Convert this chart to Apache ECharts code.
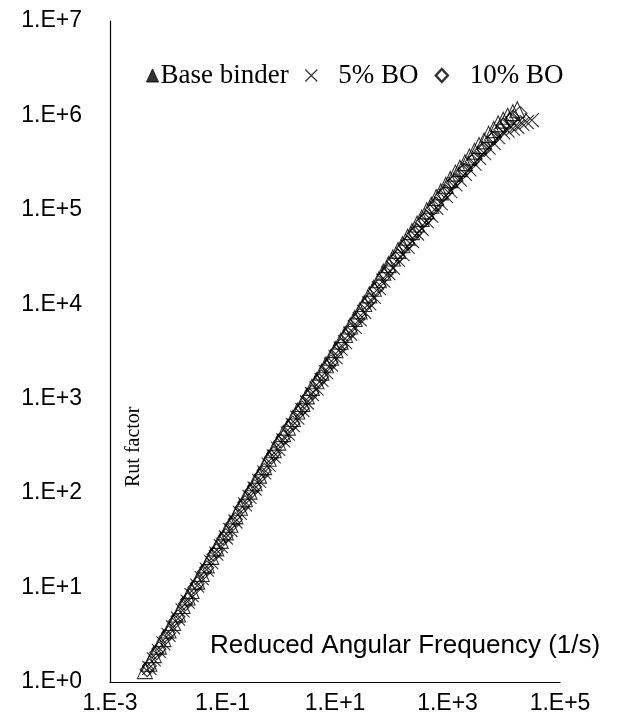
<!DOCTYPE html>
<html>
<head>
<meta charset="utf-8">
<script src="https://cdn.jsdelivr.net/npm/echarts@6/dist/echarts.min.js"></script>
<style>
    html, body { margin: 0; padding: 0; background: #fff; }
    #chart { width: 620px; height: 726px; }
</style>
</head>
<body>
<div id="chart"></div>
<script>
    // reduced angular frequency (1/s) and rut factor
    var baseFreq = [4.17e-3, 5.01e-3, 6.0e-3, 7.41e-3, 8.9e-3, 1.10e-2, 1.32e-2, 1.62e-2, 1.95e-2, 2.40e-2,
        2.82e-2, 3.55e-2, 4.27e-2, 5.25e-2, 6.3e-2, 7.76e-2, 9.3e-2, 0.115, 0.138, 0.170,
        0.204, 0.251, 0.302, 0.372, 0.447, 0.550, 0.661, 0.813, 0.977, 1.20,
        1.45, 1.78, 2.14, 2.63, 3.16, 3.89, 4.68, 5.75, 6.92, 8.51,
        10.2, 12.6, 15.1, 18.6, 22.4, 27.5, 33.1, 40.7, 49.0, 60.3,
        72.4, 89.1, 107, 132, 158, 195, 234, 288, 347, 427,
        513, 631, 759, 933, 1120, 1380, 1660, 2040, 2450, 3020,
        3630, 4470, 5370, 6610, 7940, 9770, 11700, 14500, 17400];
    var baseRut = [1.32, 1.58, 1.95, 2.40, 2.88, 3.55, 4.27, 5.25, 6.46, 7.94,
        9.3, 11.7, 14.1, 17.4, 21.4, 26.3, 31.6, 38.9, 46.8, 57.5,
        70.8, 87.1, 105, 129, 155, 191, 234, 288, 347, 427,
        501, 617, 741, 891, 1070, 1320, 1550, 1910, 2290, 2750,
        3310, 4070, 4790, 5890, 7080, 8510, 10200, 12600, 14800, 18200,
        21900, 26300, 30900, 37200, 42700, 51300, 58900, 70800, 81300, 97700,
        112000, 135000, 155000, 182000, 209000, 245000, 275000, 316000, 363000, 417000,
        479000, 537000, 631000, 708000, 813000, 891000, 980000, 1070000, 1150000];

    var bo5Freq = [5.0e-3, 6.0e-3, 7.4e-3, 8.9e-3, 1.10e-2, 1.32e-2, 1.62e-2, 1.95e-2, 2.40e-2, 2.82e-2,
        3.55e-2, 4.27e-2, 5.25e-2, 6.3e-2, 7.76e-2, 9.3e-2, 0.115, 0.138, 0.170, 0.204,
        0.251, 0.302, 0.372, 0.447, 0.550, 0.661, 0.813, 0.977, 1.20, 1.45,
        1.78, 2.14, 2.63, 3.16, 3.89, 4.68, 5.75, 6.92, 8.51, 10.2,
        12.6, 15.1, 18.6, 22.4, 27.5, 33.1, 40.7, 49.0, 60.3, 72.4,
        89.1, 107, 132, 158, 195, 234, 288, 347, 427, 513,
        631, 759, 933, 1120, 1380, 1660, 2040, 2450, 3020, 3630,
        4470, 5370, 6610, 7940, 9770, 11700, 14500, 17400, 21400, 25700, 31600];
    var bo5Rut = [1.41, 1.74, 2.14, 2.57, 3.16, 3.80, 4.68, 5.75, 7.08, 8.32,
        10.5, 12.6, 15.5, 18.6, 22.9, 27.5, 33.9, 40.7, 50.1, 61.7,
        75.9, 91.2, 112, 135, 166, 200, 245, 295, 363, 427,
        525, 631, 759, 912, 1120, 1290, 1580, 1910, 2290, 2750,
        3390, 3980, 4900, 5750, 6920, 8320, 10200, 12000, 14800, 17800,
        21400, 24500, 29500, 33900, 40700, 46800, 56200, 63100, 75900, 87100,
        105000, 117000, 141000, 158000, 186000, 209000, 240000, 269000, 309000, 355000,
        398000, 457000, 513000, 589000, 661000, 692000, 724000, 759000, 813000, 851000, 891000];

    var bo10Freq = [4.57e-3, 5.0e-3, 6.76e-3, 7.4e-3, 1.0e-2, 1.10e-2, 1.48e-2, 1.62e-2, 2.19e-2, 2.40e-2,
        3.24e-2, 3.55e-2, 4.79e-2, 5.25e-2, 7.08e-2, 7.76e-2, 0.105, 0.115, 0.155, 0.170,
        0.229, 0.251, 0.339, 0.372, 0.501, 0.550, 0.741, 0.813, 1.10, 1.20,
        1.62, 1.78, 2.40, 2.63, 3.55, 3.89, 5.25, 5.75, 7.76, 8.51,
        11.5, 12.6, 17.0, 18.6, 25.1, 27.5, 37.2, 40.7, 55.0, 60.3,
        81.3, 89.1, 120, 132, 178, 195, 263, 288, 389, 427,
        575, 631, 851, 933, 1260, 1380, 1860, 2040, 2750, 3020,
        4070, 4470, 6030, 6610, 8910, 9770, 13200, 14500, 19500];
    var bo10Rut = [1.35, 1.48, 2.04, 2.24, 3.02, 3.31, 4.47, 4.90, 6.76, 7.41,
        10.0, 11.0, 14.8, 16.2, 22.4, 24.5, 33.1, 35.5, 47.9, 52.5,
        72.4, 79.4, 107, 117, 158, 174, 240, 263, 355, 389,
        513, 550, 741, 794, 1070, 1170, 1550, 1700, 2240, 2450,
        3310, 3630, 4790, 5250, 6920, 7590, 10200, 11000, 14500, 15800,
        20900, 22900, 30200, 32400, 41700, 44700, 56200, 60300, 77600, 83200,
        105000, 115000, 145000, 155000, 195000, 204000, 251000, 263000, 324000, 347000,
        427000, 437000, 550000, 575000, 708000, 794000, 891000, 955000, 1050000];

    var seriesNames = ['Base binder', '5% BO', '10% BO'];

    var crossPath = 'path://M0,0L10,10M10,0L0,10';
    var sans = 'Liberation Sans, Arial, sans-serif';
    var serif = 'Liberation Serif, Times New Roman, serif';

    function sci(v) {
        var e = Math.round(Math.log10(v));
        return '1.E' + (e < 0 ? '-' : '+') + Math.abs(e);
    }

    function pairs(xs, ys) {
        return xs.map(function (x, i) { return [x, ys[i]]; });
    }

    var markerStyle = { color: 'rgba(0,0,0,0)', borderColor: '#000', borderWidth: 1.1 };
    var legendFont = { fontFamily: serif, fontSize: 27, color: '#000' };
    var legendKeys = { 'Base binder': 'a', '5% BO': 'b', '10% BO': 'c' };

    var option = {
        animation: false,
        backgroundColor: '#fff',
        grid: { left: 110, right: 60, top: 21, bottom: 44 },
        legend: {
            left: 141,
            top: 57,
            itemGap: 16,
            itemWidth: 12,
            itemHeight: 13,
            formatter: function (name) {
                return '{' + legendKeys[name] + '|' + name + '}';
            },
            textStyle: {
                fontFamily: serif, fontSize: 27, color: '#000',
                rich: {
                    a: Object.assign({ padding: [0, 5, 0, -3] }, legendFont),
                    b: Object.assign({ padding: [0, 0, 0, 16] }, legendFont),
                    c: Object.assign({ padding: [0, 0, 0, 17] }, legendFont)
                }
            },
            data: [
                { name: seriesNames[0], icon: 'triangle', itemStyle: { color: '#000', borderColor: '#000', borderWidth: 1 } },
                { name: seriesNames[1], icon: crossPath, itemStyle: { color: 'rgba(0,0,0,0)', borderColor: '#000', borderWidth: 1.2 } },
                { name: seriesNames[2], icon: 'diamond', itemStyle: { color: '#fff', borderColor: '#000', borderWidth: 2.5 } }
            ]
        },
        xAxis: {
            type: 'log',
            min: 1e-3,
            max: 1e5,
            axisLine: { lineStyle: { color: '#000', width: 1.2 } },
            axisTick: { show: false },
            splitLine: { show: false },
            axisLabel: {
                margin: 10,
                fontFamily: sans,
                fontSize: 23,
                color: '#000',
                formatter: function (v) {
                    var e = Math.round(Math.log10(v));
                    return Math.abs(e) % 2 === 1 ? sci(v) : '';
                }
            }
        },
        yAxis: {
            type: 'log',
            min: 1,
            max: 1e7,
            axisLine: { show: true, lineStyle: { color: '#000', width: 1.2 } },
            axisTick: { show: false },
            splitLine: { show: false },
            axisLabel: {
                margin: 28,
                fontFamily: sans,
                fontSize: 23,
                color: '#000',
                formatter: sci
            }
        },
        graphic: [
            {
                type: 'text',
                left: 210,
                top: 633,
                style: { text: 'Reduced Angular Frequency (1/s)', font: '26px ' + sans, fill: '#000' }
            },
            {
                type: 'text',
                x: 124,
                y: 487,
                rotation: Math.PI / 2,
                style: { text: 'Rut factor', font: '20px ' + serif, fill: '#000' }
            }
        ],
        series: [
            {
                name: seriesNames[0],
                type: 'scatter',
                symbol: 'triangle',
                symbolSize: [15, 16],
                itemStyle: markerStyle,
                data: pairs(baseFreq, baseRut)
            },
            {
                name: seriesNames[1],
                type: 'scatter',
                symbol: crossPath,
                symbolSize: 14,
                itemStyle: markerStyle,
                data: pairs(bo5Freq, bo5Rut)
            },
            {
                name: seriesNames[2],
                type: 'scatter',
                symbol: 'diamond',
                symbolSize: 14,
                itemStyle: markerStyle,
                data: pairs(bo10Freq, bo10Rut)
            }
        ]
    };

    var chart = echarts.init(document.getElementById('chart'));
    chart.setOption(option);
</script>
</body>
</html>
